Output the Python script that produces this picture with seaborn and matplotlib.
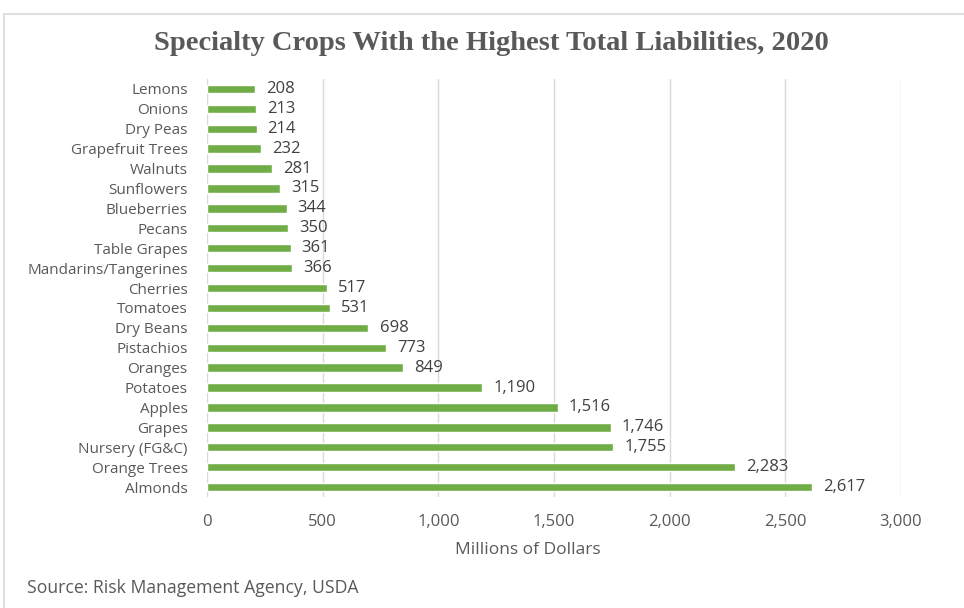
import matplotlib
matplotlib.use("Agg")
import matplotlib.pyplot as plt
import seaborn as sns
import pandas as pd
from matplotlib.patches import Rectangle

crops = ["Lemons", "Onions", "Dry Peas", "Grapefruit Trees", "Walnuts", "Sunflowers",
         "Blueberries", "Pecans", "Table Grapes", "Mandarins/Tangerines", "Cherries",
         "Tomatoes", "Dry Beans", "Pistachios", "Oranges", "Potatoes", "Apples",
         "Grapes", "Nursery (FG&C)", "Orange Trees", "Almonds"]
liabilities = [208, 213, 214, 232, 281, 315, 344, 350, 361, 366, 517, 531, 698,
               773, 849, 1190, 1516, 1746, 1755, 2283, 2617]
xticks = [0, 500, 1000, 1500, 2000, 2500, 3000]

df = pd.DataFrame({"Crop": crops, "Liabilities": liabilities})

sns.set_style("white")
plt.rcParams["font.family"] = ["Open Sans", "DejaVu Sans"]
txt = "#595959"
green = "#70AD47"

fig = plt.figure(figsize=(9.64, 6.08), dpi=100)
ax = fig.add_axes([207/964, 1 - 497/608, (901 - 207)/964, (497 - 79)/608])

sns.barplot(data=df, x="Liabilities", y="Crop", orient="h", color=green,
            width=0.42, saturation=1, ax=ax)

ax.set_xlim(0, 3000)
ax.set_xticks(xticks)
ax.set_xticklabels([f"{v:,}" for v in xticks])
ax.grid(axis="x", color="#D9D9D9", linewidth=1)
ax.set_axisbelow(True)
for s in ax.spines.values():
    s.set_visible(False)
ax.tick_params(axis="both", length=0, colors=txt)
ax.tick_params(axis="x", pad=12, labelsize=12)
ax.tick_params(axis="y", pad=14, labelsize=11)
ax.set_ylabel("")
ax.set_xlabel("Millions of Dollars", fontsize=12.5, color=txt)
ax.xaxis.set_label_coords((528 - 207) / 694, -(550 - 497) / 418)
ax.xaxis.label.set_va("center")

for i, v in enumerate(liabilities):
    ax.annotate(f"{v:,}", xy=(v, i), xytext=(8, 0), textcoords="offset points",
                va="center", ha="left", fontsize=12, color="#404040")

fig.text(491/964, 1 - 44/608, "Specialty Crops With the Highest Total Liabilities, 2020",
         ha="center", va="center", fontsize=20.5, fontweight="bold", color=txt,
         family=["Liberation Serif", "DejaVu Serif"])
fig.text(27/964, 1 - 588/608, "Source: Risk Management Agency, USDA",
         ha="left", va="center", fontsize=12.7, color=txt)

fig.patches.append(Rectangle((4/964, -0.05), 1.1, 1 - 14/608 + 0.05,
                             transform=fig.transFigure, fill=False,
                             edgecolor="#D9D9D9", linewidth=1.2))

plt.savefig("out.png", dpi=100)
